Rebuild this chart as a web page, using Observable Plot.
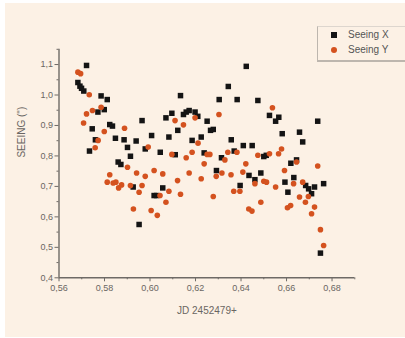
<!DOCTYPE html>
<html><head><meta charset="utf-8">
<script src="https://cdn.jsdelivr.net/npm/d3@7"></script>
<script src="https://cdn.jsdelivr.net/npm/@observablehq/plot@0.6"></script>
<style>
html,body{margin:0;padding:0;background:#fff;}
#wrap{position:relative;width:405px;height:338px;overflow:hidden;}
#panel{position:absolute;left:5px;top:3px;width:400px;height:334px;background:#fcf1e5;}
#chart{position:absolute;left:0;top:0;}
#legend{position:absolute;left:317px;top:26px;width:100px;height:33px;border-left:1px solid #bdb6ae;border-top:1px solid #ddd6ce;border-bottom:2px solid #bdb6ae;background:#fcf1e5;font-family:"Liberation Sans",Arial,sans-serif;font-size:10px;color:#555;}
.li{position:absolute;left:0;height:14px;line-height:14px;}
.li span.m{position:absolute;left:13px;top:4px;width:6px;height:6px;}
.li span.t{position:absolute;left:30px;white-space:nowrap;}
</style></head>
<body><div id="wrap"><div id="panel"></div><div id="chart"></div>
<div id="legend">
<div class="li" style="top:1px"><span class="m" style="background:#141414"></span><span class="t">Seeing X</span></div>
<div class="li" style="top:16px"><span class="m" style="background:#d4521f;border-radius:50%"></span><span class="t">Seeing Y</span></div>
</div></div>
<script>
const seeingXjd = [0.5683,0.5692,0.5699,0.5709,0.5721,0.5734,0.5746,0.5760,0.5771,0.5785,0.5799,0.5812,0.5823,0.5835,0.5848,0.5860,0.5872,0.5886,0.5901,0.5914,0.5926,0.5939,0.5952,0.5965,0.5979,0.6007,0.6018,0.6029,0.6045,0.6056,0.6070,0.6083,0.6096,0.6111,0.6122,0.6134,0.6147,0.6159,0.6172,0.6185,0.6198,0.6210,0.6225,0.6238,0.6251,0.6266,0.6278,0.6292,0.6304,0.6314,0.6344,0.6357,0.6370,0.6383,0.6396,0.6410,0.6423,0.6435,0.6449,0.6461,0.6474,0.6487,0.6500,0.6511,0.6525,0.6552,0.6566,0.6581,0.6593,0.6606,0.6619,0.6632,0.6644,0.6657,0.6671,0.6684,0.6697,0.6710,0.6723,0.6737,0.6749,0.6763];
const seeingX = [1.041,1.029,1.022,1.013,1.097,0.816,0.889,0.853,0.944,0.997,0.952,0.985,0.903,0.898,0.858,0.780,0.772,0.853,0.828,0.799,0.698,0.849,0.575,0.916,0.823,0.867,0.670,0.670,0.812,0.695,0.925,0.862,0.940,0.804,0.884,0.998,0.936,0.944,0.949,0.851,0.944,0.930,0.862,0.810,0.914,0.884,0.887,0.752,0.985,0.794,1.028,0.853,0.816,0.985,0.703,0.834,1.094,0.736,0.834,0.722,0.982,0.744,0.798,0.802,0.933,0.914,0.927,0.873,0.714,0.681,0.776,0.729,0.787,0.878,0.846,0.703,0.692,0.676,0.698,0.914,0.481,0.709];
const seeingYjd = [0.5683,0.5695,0.5708,0.5721,0.5733,0.5747,0.5759,0.5772,0.5785,0.5799,0.5812,0.5823,0.5838,0.5850,0.5862,0.5875,0.5888,0.5901,0.5914,0.5927,0.5941,0.5952,0.5965,0.5979,0.5992,0.6005,0.6018,0.6032,0.6044,0.6056,0.6070,0.6083,0.6096,0.6110,0.6121,0.6134,0.6147,0.6159,0.6172,0.6185,0.6198,0.6211,0.6225,0.6238,0.6251,0.6263,0.6278,0.6291,0.6303,0.6316,0.6329,0.6342,0.6356,0.6368,0.6382,0.6395,0.6408,0.6421,0.6434,0.6448,0.6461,0.6474,0.6487,0.6500,0.6512,0.6525,0.6538,0.6552,0.6565,0.6578,0.6591,0.6604,0.6618,0.6631,0.6644,0.6657,0.6671,0.6683,0.6696,0.6710,0.6723,0.6737,0.6749,0.6763];
const seeingY = [1.075,1.070,0.908,0.938,1.001,0.949,0.827,0.851,0.960,0.880,0.714,0.738,0.711,0.714,0.695,0.705,0.891,0.763,0.703,0.626,0.744,0.681,0.703,0.733,0.829,0.621,0.752,0.605,0.670,0.741,0.648,0.684,0.805,0.916,0.719,0.674,0.902,0.794,0.744,0.812,0.925,0.842,0.725,0.774,0.805,0.805,0.667,0.733,0.936,0.744,0.787,0.812,0.738,0.684,0.812,0.684,0.747,0.774,0.626,0.619,0.709,0.802,0.648,0.717,0.714,0.807,0.958,0.698,0.807,0.823,0.752,0.630,0.637,0.709,0.780,0.665,0.714,0.648,0.667,0.610,0.632,0.767,0.558,0.506];
const xTicks = [0.56,0.58,0.60,0.62,0.64,0.66,0.68];
const xMinor = [0.57,0.59,0.61,0.63,0.65,0.67,0.69];
const yTicks = [0.4,0.5,0.6,0.7,0.8,0.9,1.0,1.1];
const yMinor = [0.45,0.55,0.65,0.75,0.85,0.95,1.05,1.15];
const xTitle = "JD 2452479+";
const yTitle = "SEEING (\")";

const dataX = seeingXjd.map((jd,i)=>({jd, s: seeingX[i]}));
const dataY = seeingYjd.map((jd,i)=>({jd, s: seeingY[i]}));
const axisCol = "#6e6a66";
const chart = Plot.plot({
  width: 405, height: 338,
  marginLeft: 58.5, marginRight: 50.7, marginTop: 48.8, marginBottom: 60.7,
  x: {domain: [0.56, 0.69]},
  y: {domain: [0.4, 1.15]},
  style: {background: "transparent", color: "#6a6662", fontFamily: "'Liberation Sans', Arial, sans-serif", fontSize: "9px", overflow: "visible"},
  marks: [
    Plot.axisX(xTicks, {tickSize: 4, tickPadding: 3, stroke: axisCol, tickFormat: d => d.toFixed(2).replace(".", ","), label: null}),
    Plot.axisX(xMinor, {tickSize: 2, stroke: axisCol, tickFormat: () => "", label: null}),
    Plot.axisY(yTicks, {tickSize: 4, tickPadding: 2, stroke: axisCol, tickFormat: d => d.toFixed(1).replace(".", ","), label: null}),
    Plot.axisY(yMinor, {tickSize: 2, stroke: axisCol, tickFormat: () => "", label: null}),
    Plot.ruleX([0.56], {stroke: axisCol, strokeWidth: 1.4}),
    Plot.ruleY([0.4], {stroke: axisCol, strokeWidth: 1.4}),
    Plot.dot(dataX, {x: "jd", y: "s", symbol: "square", r: 3.1, fill: "#141414"}),
    Plot.dot(dataY, {x: "jd", y: "s", symbol: "circle", r: 2.8, fill: "#d4521f"}),
    Plot.text([xTitle], {frameAnchor: "bottom", dy: 36, fontSize: 10, fill: "#6a6662"}),
    Plot.text([yTitle], {frameAnchor: "left", dx: -37, dy: -6, rotate: -90, fontSize: 10, fill: "#6a6662"})
  ]
});
document.getElementById("chart").appendChild(chart);
</script></body></html>
